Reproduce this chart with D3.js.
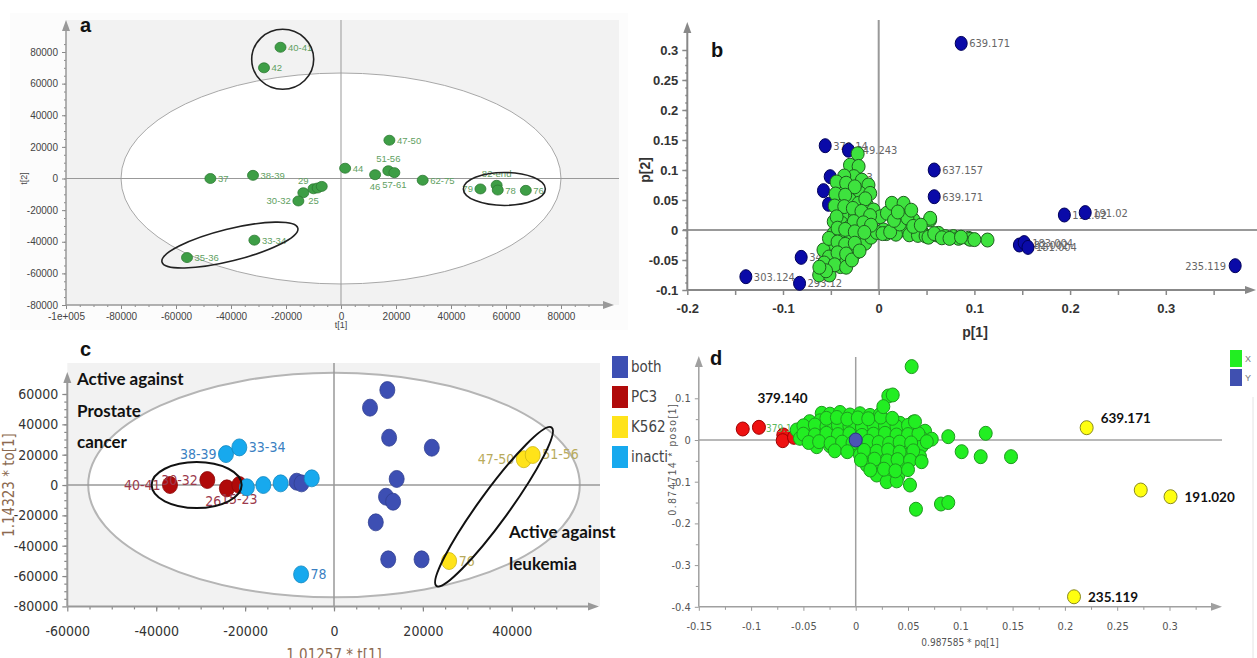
<!DOCTYPE html>
<html>
<head>
<meta charset="utf-8">
<script src="https://cdn.jsdelivr.net/npm/d3@7"></script>
<style>
  body { margin: 0; background: #fff; }
  svg { display: block; }
  text { font-family: "Liberation Sans", Arial, sans-serif; }
  .narrow { font-family: "Liberation Sans Narrow", "DejaVu Sans Condensed", sans-serif; }
</style>
</head>
<body>
<svg id="chart" width="1257" height="658"></svg>
<script>
// ---- a: PCA scores t[1] / t[2] ----
const aNames = ['40-41','42','37','38-39','29','30-32','25','','','33-34','35-36','44','47-50','46','51-56','57-61','62-75','79','82-end','78','76'];
const aT1 = [-22000,-28000,-47500,-32000,-13700,-15500,-10000,-8500,-7000,-31500,-56000,1500,17600,12400,17200,19400,29700,50700,56600,57000,67200];
const aT2 = [83000,70000,0,2000,-9000,-14200,-6500,-6000,-5000,-39000,-50000,6500,24200,2400,4900,3700,-1100,-6600,-4300,-7300,-7500];
const aSide = ['r','r','r','r','t','l','b','','','r','r','r','r','b','t','b','r','l','t','r','r'];
const aXTicks = [-100000,-80000,-60000,-40000,-20000,0,20000,40000,60000,80000];
const aYTicks = [-80000,-60000,-40000,-20000,0,20000,40000,60000,80000];
const aEllipse = [80000, 66700];
const aRingX = [-21200, -40400, 59400];
const aRingY = [75400, -42100, -6600];

// ---- b: loadings p[1] / p[2] ----
const bBlueX = [-0.0559,-0.0316,-0.0507,-0.0577,-0.0524,-0.081,-0.0827,-0.1388,0.0862,0.058,0.058,0.194,0.2158,0.147,0.152,0.156,0.3725];
const bBlueY = [0.1405,0.133,0.0889,0.0656,0.0428,-0.0456,-0.0889,-0.0778,0.311,0.1,0.0555,0.025,0.029,-0.025,-0.021,-0.029,-0.0595];
const bBlueLabel = ['379.14','349.243','313.13','409.23','','345.15','293.12','303.124','639.171','637.157','639.171','191.02','191.02','182.002','183.004','181.004','235.119'];
const bGreenX = [-0.022,-0.030,-0.021,-0.026,-0.0176,-0.0385,-0.030,-0.0107,-0.0193,-0.0089,
  -0.040,-0.030,-0.021,-0.0123,-0.0054,-0.042,-0.033,-0.0246,-0.0159,-0.047,
  -0.0385,-0.030,-0.021,-0.0107,-0.0054,-0.047,-0.0385,-0.030,-0.0193,-0.047,
  -0.0385,-0.028,-0.0193,-0.0577,-0.047,-0.0385,-0.030,-0.0507,-0.040,-0.0622,
  -0.0514,-0.024,-0.014,-0.008,-0.034,0.0016,0.0086,0.0138,0.026,0.005,
  0.0155,0.026,0.0364,0.0364,0.045,0.0538,0.0608,0.0538,0.0625,0.0695,
  0.078,0.0834,0.0938,0.0956,0.1137,-0.002,0.008,0.018,0.032,0.041,0.049,
  -0.036,-0.044,-0.034,-0.025,-0.045,-0.035,-0.014,-0.046,-0.036,-0.027,
  -0.018,-0.009,-0.044,-0.026,-0.016,-0.008,-0.043,-0.035,-0.025,-0.015,
  -0.052,-0.043,-0.035,-0.025,-0.052,-0.043,-0.034,-0.057,-0.046,-0.034,
  -0.055,-0.062,-0.028,-0.02,0.004,0.012,0.022,0.03,0.036,0.044,
  0.052,0.058,0.066,0.074,0.086,0.1,0.016,0.034,0.02];
const bGreenY = [0.127,0.108,0.106,0.089,0.083,0.0695,0.0695,0.075,0.061,0.061,
  0.05,0.05,0.0445,0.0417,0.0333,0.0333,0.028,0.025,0.022,0.0139,
  0.011,0.0056,0.0056,0,0,-0.0056,-0.011,-0.0167,-0.0139,-0.025,
  -0.0305,-0.0305,-0.028,-0.0333,-0.0445,-0.05,-0.0445,-0.061,-0.061,-0.075,
  -0.075,-0.038,-0.022,-0.012,-0.052,0.022,0.028,0.0445,0.0445,0,
  0,0,0.0167,-0.0056,-0.0028,0.0167,-0.0083,0.0195,-0.0056,-0.011,
  -0.011,-0.0139,-0.0139,-0.0155,-0.0167,-0.004,-0.006,-0.007,-0.008,-0.009,-0.01,
  0.09,0.08,0.078,0.072,0.06,0.058,0.052,0.04,0.039,0.036,
  0.031,0.024,0.022,0.014,0.012,0.008,0.003,0.001,-0.003,-0.004,
  -0.014,-0.02,-0.024,-0.022,-0.045,-0.038,-0.04,-0.055,-0.058,-0.062,
  -0.068,-0.062,-0.05,-0.035,-0.006,-0.003,0.01,0.02,0.006,0.008,
  -0.012,-0.006,-0.013,-0.014,-0.012,-0.016,0.016,0.033,0.03];
const bXTicks = [-0.2,-0.1,0,0.1,0.2,0.3];
const bYTicks = [-0.1,-0.05,0,0.05,0.1,0.15,0.2,0.25,0.3];

// ---- c: OPLS-DA scores by activity ----
const cGroups = ['both','PC3','K562','inacti'];
const cColors = ['#3d4fb3','#b00a0a','#ffe31a','#17a9ee'];
const cBothX = [12000,8100,12400,22000,14100,11700,13300,9400,12200,19700,-8400,-7300];
const cBothY = [62600,51000,31200,24600,4000,-7700,-11000,-24600,-49000,-49000,2200,1100];
const cPc3X = [-36900,-28500,-24100,-21300];
const cPc3Y = [0,3300,-2200,0];
const cPc3Label = ['40-41','30-32','26','15-23'];
const cPc3Side = ['l','l','bl','b'];
const cK562X = [42700,44700,25900];
const cK562Y = [17000,19800,-50100];
const cK562Label = ['47-50','51-56','76'];
const cK562Side = ['l','r','r'];
const cInX = [-24300,-21300,-19600,-15900,-12000,-5000,-7400];
const cInY = [20400,24800,-1500,0,1100,4400,-58900];
const cInLabel = ['38-39','33-34','','','','','78'];
const cInSide = ['l','r','','','','','r'];
const cXTicks = [-60000,-40000,-20000,0,20000,40000];
const cYTicks = [-80000,-60000,-40000,-20000,0,20000,40000,60000];
const cEllipse = [55300, 74000];
const cRingX = [-30900, 36000];
const cRingY = [0, -14300];

// ---- d: S-plot pq[1] / poso[1] ----
const dGreenX = [-0.0325,-0.0246,-0.015,-0.0055,0.0041,0.0137,0.0232,
  -0.044,-0.0341,-0.0214,-0.0086,0.0041,0.0168,0.0296,0.0423,0.0551,
  -0.0564,-0.0453,-0.0341,-0.0229,-0.0119,-0.0007,0.0105,0.0216,0.0328,0.044,0.0551,0.0663,
  -0.0533,-0.0423,-0.031,-0.0214,-0.0119,-0.0023,0.0073,0.0168,0.0264,0.036,0.0455,0.0551,0.0631,0.0727,
  -0.0373,-0.0246,-0.0119,0.001,0.0137,0.0264,0.0392,0.0519,0.0631,
  0.0041,0.0153,0.0264,0.0376,0.0488,0.0615,
  0.0105,0.0232,0.0344,0.0455,
  0.0201,0.0312,0.0407,
  0.0296,0.0392,
  -0.05,-0.039,-0.028,-0.017,-0.006,0.006,0.017,0.028,0.039,0.05,
  -0.05,-0.039,-0.028,-0.017,-0.006,0.006,0.017,0.028,0.039,0.05,0.06,
  -0.045,-0.035,-0.024,-0.013,-0.003,0.012,0.022,0.032,0.042,0.053,0.068,
  -0.02,-0.008,0.008,0.02,0.031,0.042,0.055,
  0.005,0.018,0.03,0.04,0.052,
  0.014,0.027,0.038,0.05,
  -0.028,-0.018,-0.008,0.002,0.012,0.024,0.035,
  0.0535,0.0312,0.0354,0.0264,0.0567,0.0885,0.1243,0.1013,0.1195,0.1485,0.0519,0.0576,0.0815,0.0885,0.063];
const dGreenY = [0.064,0.062,0.066,0.06,0.063,0.059,0.061,
  0.044,0.046,0.042,0.045,0.041,0.043,0.046,0.04,0.043,
  0.024,0.026,0.022,0.025,0.021,0.024,0.027,0.023,0.02,0.025,0.022,0.021,
  0.004,0.006,0.002,0.005,0.003,0.001,0.006,0.002,0.004,0.003,0.005,0.001,0.004,0.002,
  -0.016,-0.014,-0.018,-0.015,-0.017,-0.013,-0.016,-0.019,-0.015,
  -0.036,-0.034,-0.038,-0.035,-0.037,-0.04,
  -0.06,-0.058,-0.062,-0.059,
  -0.084,-0.082,-0.086,
  -0.1,-0.098,
  0.034,0.036,0.032,0.035,0.033,0.031,0.036,0.034,0.032,0.035,
  0.014,0.012,0.016,0.013,0.015,0.011,0.014,0.016,0.012,0.013,0.015,
  -0.006,-0.004,-0.008,-0.005,-0.007,-0.003,-0.006,-0.008,-0.005,-0.007,-0.004,
  -0.026,-0.028,-0.025,-0.027,-0.024,-0.029,-0.026,
  -0.048,-0.046,-0.05,-0.047,-0.049,
  -0.072,-0.07,-0.074,-0.071,
  0.052,0.054,0.05,0.053,0.051,0.055,0.052,
  0.176,0.1055,0.108,0.08,0.044,0.008,0.016,-0.028,-0.04,-0.04,-0.108,-0.166,-0.1535,-0.15,-0.052];
const dRedX = [-0.108,-0.0925,-0.0692,-0.0698,-0.059];
const dRedY = [0.0264,0.0304,0.012,-0.0016,0.0064];
const dBlueX = [0];
const dBlueY = [0];
const dYellowX = [0.2208,0.2725,0.301,0.2087];
const dYellowY = [0.0295,-0.12,-0.136,-0.376];
const dYellowLabel = ['639.171','','191.020','235.119'];
const dXTicks = [-0.15,-0.1,-0.05,0,0.05,0.1,0.15,0.2,0.25,0.3];
const dYTicks = [-0.4,-0.3,-0.2,-0.1,0,0.1];

const svg = d3.select('#chart');
const num = d => String(+(+d).toFixed(4));

function arrow(g, x, y, dir, color) {
    var p = dir === 'up'
        ? [[x, y], [x - 4, y + 11], [x + 4, y + 11]]
        : [[x, y], [x - 11, y - 4], [x - 11, y + 4]];
    g.append('path').attr('d', 'M' + p.join('L') + 'Z').attr('fill', color);
}

function labelPos(side, r) {
    if (side === 'r') return { dx: r + 2, dy: 3.5, anchor: 'start' };
    if (side === 'l') return { dx: -(r + 2), dy: 3.5, anchor: 'end' };
    if (side === 't') return { dx: 0, dy: -(r + 3), anchor: 'middle' };
    if (side === 'b') return { dx: 0, dy: r + 10, anchor: 'middle' };
    return { dx: -r + 2, dy: r + 9, anchor: 'end' };   // bl
}

function ticks(g, scale, vals, orient, size, fmt) {
    var ax = (orient === 'bottom' ? d3.axisBottom(scale) : d3.axisLeft(scale))
        .tickValues(vals).tickSize(size).tickPadding(4).tickFormat(fmt || '');
    g.call(ax);
    g.select('.domain').remove();
    return g;
}

// ================= panel a =================
(function() {
    var x = d3.scaleLinear().domain([-100000, 80000]).range([66, 561]);
    var y = d3.scaleLinear().domain([-80000, 80000]).range([305, 52]);
    var g = svg.append('g');

    g.append('rect').attr('x', 10).attr('y', 13).attr('width', 618).attr('height', 317).attr('fill', '#fcfcfc');
    g.append('rect').attr('x', x(-100000)).attr('y', 20)
        .attr('width', 619 - x(-100000)).attr('height', y(-80000) - 20).attr('fill', '#f2f2f2');
    g.append('ellipse').attr('cx', x(0)).attr('cy', y(0))
        .attr('rx', x(aEllipse[0]) - x(0)).attr('ry', y(0) - y(aEllipse[1]))
        .attr('fill', '#fff').attr('stroke', '#a8a8a8');

    // zero lines
    g.append('line').attr('x1', x(-100000)).attr('x2', 619).attr('y1', y(0)).attr('y2', y(0)).attr('stroke', '#999');
    g.append('line').attr('x1', x(0)).attr('x2', x(0)).attr('y1', 20).attr('y2', y(-80000)).attr('stroke', '#999');

    // axes
    var fa = d => d === -100000 ? '-1e+005' : String(d);
    var gx = g.append('g').attr('transform', 'translate(0,' + y(-80000) + ')');
    ticks(gx, x, aXTicks, 'bottom', 4, fa);
    ticks(g.append('g').attr('transform', 'translate(0,' + y(-80000) + ')'), x, d3.range(-95000, 95000, 5000), 'bottom', 2);
    var gy = g.append('g').attr('transform', 'translate(' + x(-100000) + ',0)');
    ticks(gy, y, aYTicks, 'left', 4, String);
    ticks(g.append('g').attr('transform', 'translate(' + x(-100000) + ',0)'), y, d3.range(-75000, 90000, 5000), 'left', 2);
    g.selectAll('.tick line').attr('stroke', '#888');
    g.selectAll('.tick text').attr('fill', '#444').style('font-size', '10px');
    g.append('line').attr('x1', x(-100000)).attr('x2', 606).attr('y1', y(-80000)).attr('y2', y(-80000)).attr('stroke', '#999').attr('stroke-width', 1.5);
    g.append('line').attr('x1', x(-100000)).attr('x2', x(-100000)).attr('y1', y(-80000)).attr('y2', 28).attr('stroke', '#999').attr('stroke-width', 1.5);
    arrow(g, 614, y(-80000), 'right', '#999');
    arrow(g, x(-100000), 20, 'up', '#999');

    g.append('text').attr('x', x(0)).attr('y', 328).attr('text-anchor', 'middle').style('font-size', '9px').attr('fill', '#444').text('t[1]');
    g.append('text').attr('transform', 'translate(27,' + y(0) + ') rotate(-90)').attr('text-anchor', 'middle').style('font-size', '9px').attr('fill', '#444').text('t[2]');

    // points
    aT1.forEach(function(v, i) {
        g.append('ellipse').attr('cx', x(v)).attr('cy', y(aT2[i])).attr('rx', 5.5).attr('ry', 5)
            .attr('fill', '#3e9e46').attr('stroke', '#2d7a33').attr('stroke-width', 0.8);
    });
    aT1.forEach(function(v, i) {
        if (!aNames[i]) return;
        var p = labelPos(aSide[i], 5.5);
        g.append('text').attr('x', x(v) + p.dx).attr('y', y(aT2[i]) + p.dy).attr('text-anchor', p.anchor)
            .style('font-size', '9.5px').attr('fill', '#5f9f62').text(aNames[i]);
    });

    // annotation rings
    var ringR = [[31, 30, 0], [70, 16, -14], [41, 16.5, 0]];
    aRingX.forEach(function(v, i) {
        g.append('ellipse').attr('transform', 'translate(' + x(v) + ',' + y(aRingY[i]) + ') rotate(' + ringR[i][2] + ')')
            .attr('rx', ringR[i][0]).attr('ry', ringR[i][1])
            .attr('fill', 'none').attr('stroke', '#222').attr('stroke-width', 1.6);
    });

    g.append('text').attr('x', 80).attr('y', 32).style('font-size', '20px').style('font-weight', 'bold').attr('fill', '#111').text('a');
})();

// ================= panel b =================
(function() {
    var x = d3.scaleLinear().domain([-0.2, 0.3]).range([687.3, 1165.8]);
    var y = d3.scaleLinear().domain([-0.1, 0.3]).range([290, 50]);
    var g = svg.append('g');

    g.append('line').attr('x1', 683).attr('x2', 1257).attr('y1', y(0)).attr('y2', y(0)).attr('stroke', '#999').attr('stroke-width', 2);
    g.append('line').attr('x1', x(0)).attr('x2', x(0)).attr('y1', 20).attr('y2', y(-0.1)).attr('stroke', '#999').attr('stroke-width', 2);

    var gx = g.append('g').attr('transform', 'translate(0,' + y(-0.1) + ')');
    ticks(gx, x, bXTicks, 'bottom', 5, num);
    ticks(g.append('g').attr('transform', 'translate(0,' + y(-0.1) + ')'), x, [-0.15, -0.05, 0.05, 0.15, 0.25, 0.35], 'bottom', 5);
    var gy = g.append('g').attr('transform', 'translate(' + x(-0.2) + ',0)');
    ticks(gy, y, bYTicks, 'left', 5, num);
    ticks(g.append('g').attr('transform', 'translate(' + x(-0.2) + ',0)'), y, d3.range(-0.0875, 0.3, 0.0125), 'left', 2);
    g.selectAll('.tick line').attr('stroke', '#888').attr('stroke-width', 1.5);
    g.selectAll('.tick text').attr('fill', '#333').style('font-size', '13px').style('font-weight', 'bold');
    gx.selectAll('.tick text').attr('dy', '1.1em');
    g.append('line').attr('x1', x(-0.2)).attr('x2', 1245).attr('y1', y(-0.1)).attr('y2', y(-0.1)).attr('stroke', '#888').attr('stroke-width', 2);
    g.append('line').attr('x1', x(-0.2)).attr('x2', x(-0.2)).attr('y1', y(-0.1)).attr('y2', 32).attr('stroke', '#888').attr('stroke-width', 2);
    arrow(g, 1256, y(-0.1), 'right', '#888');
    arrow(g, x(-0.2), 22, 'up', '#888');

    g.append('text').attr('transform', 'translate(650,' + y(0.1) + ') rotate(-90)').attr('text-anchor', 'middle')
        .style('font-size', '14px').style('font-weight', 'bold').attr('fill', '#333').text('p[2]');
    g.append('text').attr('x', 975).attr('y', 337).attr('text-anchor', 'middle')
        .style('font-size', '14px').style('font-weight', 'bold').attr('fill', '#333').text('p[1]');

    // blue (response-related) loadings with labels
    bBlueX.forEach(function(v, i) {
        var cx = x(v), cy = y(bBlueY[i]);
        g.append('ellipse').attr('cx', cx).attr('cy', cy).attr('rx', 6).attr('ry', 7)
            .attr('fill', '#0a0aa8').attr('stroke', '#00005a');
        if (!bBlueLabel[i]) return;
        var left = i === bBlueX.length - 1;
        g.append('text').attr('class', 'narrow').attr('x', cx + (left ? -9 : 8)).attr('y', cy + 4)
            .attr('text-anchor', left ? 'end' : 'start').style('font-size', '11px').attr('fill', '#666').text(bBlueLabel[i]);
    });

    // green loadings
    g.append('g').selectAll('ellipse').data(bGreenX).join('ellipse')
        .attr('cx', d => x(d)).attr('cy', (d, i) => y(bGreenY[i]))
        .attr('rx', 6.5).attr('ry', 7)
        .attr('fill', '#3ee23e').attr('stroke', '#1f5e1f').attr('stroke-width', 1);

    g.append('text').attr('x', 711).attr('y', 57).style('font-size', '20px').style('font-weight', 'bold').attr('fill', '#111').text('b');
})();

// ================= panel c =================
(function() {
    var x = d3.scaleLinear().domain([-60000, 40000]).range([67.3, 511.8]);
    var y = d3.scaleLinear().domain([-80000, 60000]).range([606.4, 394]);
    var g = svg.append('g');

    g.append('rect').attr('x', x(-60000)).attr('y', 363).attr('width', 600 - x(-60000)).attr('height', y(-80000) - 363).attr('fill', '#f2f2f2');
    g.append('ellipse').attr('cx', x(0)).attr('cy', y(0))
        .attr('rx', x(cEllipse[0]) - x(0)).attr('ry', y(0) - y(cEllipse[1]))
        .attr('fill', '#fff').attr('stroke', '#b5b5b5').attr('stroke-width', 2);
    g.append('line').attr('x1', x(-60000)).attr('x2', 600).attr('y1', y(0)).attr('y2', y(0)).attr('stroke', '#999').attr('stroke-width', 1.5);
    g.append('line').attr('x1', x(0)).attr('x2', x(0)).attr('y1', 363).attr('y2', y(-80000)).attr('stroke', '#999').attr('stroke-width', 1.5);

    var gx = g.append('g').attr('transform', 'translate(0,' + y(-80000) + ')');
    ticks(gx, x, cXTicks, 'bottom', 5, String);
    ticks(g.append('g').attr('transform', 'translate(0,' + y(-80000) + ')'), x, d3.range(-55000, 55000, 5000), 'bottom', 3);
    var gy = g.append('g').attr('transform', 'translate(' + x(-60000) + ',0)');
    ticks(gy, y, cYTicks, 'left', 5, String);
    ticks(g.append('g').attr('transform', 'translate(' + x(-60000) + ',0)'), y, d3.range(-75000, 65000, 5000), 'left', 3);
    g.selectAll('.tick line').attr('stroke', '#888').attr('stroke-width', 1.2);
    g.selectAll('.tick text').attr('class', 'narrow').attr('fill', '#333').style('font-size', '14px');
    gx.selectAll('.tick text').attr('dy', '1.5em');
    g.append('line').attr('x1', x(-60000)).attr('x2', 588).attr('y1', y(-80000)).attr('y2', y(-80000)).attr('stroke', '#999').attr('stroke-width', 2);
    g.append('line').attr('x1', x(-60000)).attr('x2', x(-60000)).attr('y1', y(-80000)).attr('y2', 382).attr('stroke', '#999').attr('stroke-width', 2);
    arrow(g, 599, y(-80000), 'right', '#999');
    arrow(g, x(-60000), 372, 'up', '#999');

    g.append('text').attr('class', 'narrow').attr('transform', 'translate(14,' + y(0) + ') rotate(-90)').attr('text-anchor', 'middle')
        .style('font-size', '15px').attr('fill', '#8c6a50').text('1.14323 * to[1]');
    g.append('text').attr('class', 'narrow').attr('x', x(0)).attr('y', 660).attr('text-anchor', 'middle')
        .style('font-size', '15px').attr('fill', '#8c6a50').text('1.01257 * t[1]');

    function group(xs, ys, color, labels, sides, labelColor) {
        xs.forEach(function(v, i) {
            g.append('ellipse').attr('cx', x(v)).attr('cy', y(ys[i])).attr('rx', 7.5).attr('ry', 8.5)
                .attr('fill', color).attr('stroke', d3.color(color).darker(0.6)).attr('stroke-width', 0.8);
        });
        if (!labels) return;
        xs.forEach(function(v, i) {
            if (!labels[i]) return;
            var p = labelPos(sides[i], 7.5);
            g.append('text').attr('class', 'narrow').attr('x', x(v) + p.dx).attr('y', y(ys[i]) + p.dy + 1)
                .attr('text-anchor', p.anchor).style('font-size', '14px').attr('fill', labelColor).text(labels[i]);
        });
    }
    group(cBothX, cBothY, cColors[0]);
    group(cPc3X, cPc3Y, cColors[1], cPc3Label, cPc3Side, '#9c3a4c');
    group(cK562X, cK562Y, cColors[2], cK562Label, cK562Side, '#b9ab5c');
    group(cInX, cInY, cColors[3], cInLabel, cInSide, '#3a7fc2');

    // annotation rings
    var ringR = [[45, 23, 0], [98, 15, -54]];
    cRingX.forEach(function(v, i) {
        g.append('ellipse').attr('transform', 'translate(' + x(v) + ',' + y(cRingY[i]) + ') rotate(' + ringR[i][2] + ')')
            .attr('rx', ringR[i][0]).attr('ry', ringR[i][1])
            .attr('fill', 'none').attr('stroke', '#111').attr('stroke-width', 2);
    });

    var note = g.append('text').style('font-family', 'Lato, sans-serif').style('font-size', '17px').style('font-weight', 'bold').attr('fill', '#111');
    ['Active against', 'Prostate', 'cancer'].forEach(function(t, i) {
        note.append('tspan').attr('x', 77).attr('y', 385 + i * 31.5).text(t);
    });
    var note2 = g.append('text').style('font-family', 'Lato, sans-serif').style('font-size', '17px').style('font-weight', 'bold').attr('fill', '#111');
    ['Active against', 'leukemia'].forEach(function(t, i) {
        note2.append('tspan').attr('x', 509).attr('y', 538 + i * 32).text(t);
    });

    // legend
    var lg = g.append('g').attr('transform', 'translate(612,356)');
    cGroups.forEach(function(name, i) {
        lg.append('rect').attr('x', 0).attr('y', i * 30).attr('width', 16).attr('height', 22).attr('fill', cColors[i]);
        lg.append('text').attr('class', 'narrow').attr('x', 19).attr('y', i * 30 + 16).style('font-size', '15px').attr('fill', '#444').text(name);
    });

    g.append('text').attr('x', 80).attr('y', 356).style('font-size', '20px').style('font-weight', 'bold').attr('fill', '#111').text('c');
})();

// ================= panel d =================
(function() {
    var x = d3.scaleLinear().domain([-0.15, 0.3]).range([698.8, 1169.5]);
    var y = d3.scaleLinear().domain([-0.4, 0.1]).range([606.8, 398.3]);
    var g = svg.append('g');

    g.append('line').attr('x1', x(-0.15)).attr('x2', 1222).attr('y1', y(0)).attr('y2', y(0)).attr('stroke', '#a0a0a0').attr('stroke-width', 1.5);
    g.append('line').attr('x1', x(0)).attr('x2', x(0)).attr('y1', 357).attr('y2', y(-0.4)).attr('stroke', '#a0a0a0').attr('stroke-width', 1.5);
    g.append('line').attr('x1', 1253).attr('x2', 1253).attr('y1', 397).attr('y2', 658).attr('stroke', '#e4e4e4');

    var gx = g.append('g').attr('transform', 'translate(0,' + y(-0.4) + ')');
    ticks(gx, x, dXTicks, 'bottom', 4, num);
    ticks(g.append('g').attr('transform', 'translate(0,' + y(-0.4) + ')'), x, d3.range(-0.125, 0.33, 0.05), 'bottom', 3);
    var gy = g.append('g').attr('transform', 'translate(' + x(-0.15) + ',0)');
    ticks(gy, y, dYTicks, 'left', 4, num);
    ticks(g.append('g').attr('transform', 'translate(' + x(-0.15) + ',0)'), y, d3.range(-0.35, 0.15, 0.1), 'left', 3);
    g.selectAll('.tick line').attr('stroke', '#999');
    g.selectAll('.tick text').attr('class', 'narrow').attr('fill', '#555').style('font-size', '11px');
    gx.selectAll('.tick text').attr('dy', '1.4em');
    g.append('line').attr('x1', x(-0.15)).attr('x2', 1212).attr('y1', y(-0.4)).attr('y2', y(-0.4)).attr('stroke', '#a0a0a0').attr('stroke-width', 1.5);
    g.append('line').attr('x1', x(-0.15)).attr('x2', x(-0.15)).attr('y1', y(-0.4)).attr('y2', 366).attr('stroke', '#a0a0a0').attr('stroke-width', 1.5);
    arrow(g, 1222, y(-0.4), 'right', '#a0a0a0');
    arrow(g, x(-0.15), 356, 'up', '#a0a0a0');

    g.append('text').attr('transform', 'translate(676,' + 459 + ') rotate(-90)').attr('text-anchor', 'middle')
        .style('font-size', '10px').style('letter-spacing', '1.6px').attr('fill', '#555').text('0.874714 * poso[1]');
    g.append('text').attr('class', 'narrow').attr('x', 960).attr('y', 646).attr('text-anchor', 'middle')
        .style('font-size', '10px').attr('fill', '#555').text('0.987585 * pq[1]');

    function dots(xs, ys, fill, stroke) {
        g.append('g').selectAll('ellipse').data(xs).join('ellipse')
            .attr('cx', d => x(d)).attr('cy', (d, i) => y(ys[i])).attr('rx', 6.5).attr('ry', 7)
            .attr('fill', fill).attr('stroke', stroke).attr('stroke-width', 1);
    }
    dots(dRedX, dRedY, '#ee1111', '#a00000');
    g.append('text').attr('class', 'narrow').attr('x', x(dRedX[1]) + 7).attr('y', y(dRedY[1]) + 5)
        .style('font-size', '10px').attr('fill', '#5cb85c').text('379.14');
    dots(dGreenX, dGreenY, '#22ee22', '#1f9a1f');
    dots(dBlueX, dBlueY, '#4b55b5', '#2a3080');
    dots(dYellowX, dYellowY, '#ffff10', '#8a8a20');

    var lab = { family: 'Lato, sans-serif', size: '13.5px' };
    dYellowX.forEach(function(v, i) {
        if (!dYellowLabel[i]) return;
        var ty = y(dYellowY[i]) + (i === 0 ? -5 : 5);
        var t = g.append('text').attr('x', x(v) + 14).attr('y', ty)
            .style('font-family', lab.family).style('font-size', lab.size).style('font-weight', 'bold').attr('fill', '#111').text(dYellowLabel[i]);
        if (i === 3) {
            var b = t.node().getBBox();
            g.insert('rect', function() { return t.node(); })
                .attr('x', b.x - 2).attr('y', b.y).attr('width', b.width + 4).attr('height', b.height).attr('fill', '#fff');
        }
    });
    g.append('text').attr('x', x(-0.07)).attr('y', y(0.1) + 5).attr('text-anchor', 'middle')
        .style('font-family', lab.family).style('font-size', lab.size).style('font-weight', 'bold').attr('fill', '#111').text('379.140');

    // legend
    var lg = g.append('g').attr('transform', 'translate(1230,350)');
    [['X', '#22ee22'], ['Y', '#4050b0']].forEach(function(d, i) {
        lg.append('rect').attr('x', 0).attr('y', i * 19).attr('width', 12).attr('height', 17).attr('fill', d[1]);
        lg.append('text').attr('x', 15).attr('y', i * 19 + 12).style('font-size', '9px').attr('fill', '#777').text(d[0]);
    });

    g.append('text').attr('x', 710).attr('y', 365).style('font-size', '20px').style('font-weight', 'bold').attr('fill', '#111').text('d');
})();
</script>
</body>
</html>
